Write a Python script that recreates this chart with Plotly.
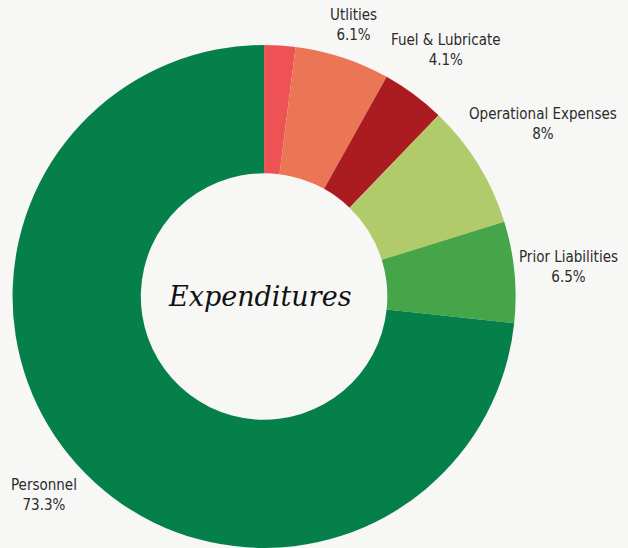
import math
import plotly.graph_objects as go

categories = ["Other", "Utlities", "Fuel & Lubricate", "Operational Expenses", "Prior Liabilities", "Personnel"]
values = [2.0, 6.1, 4.1, 8, 6.5, 73.3]
show_label = [False, True, True, True, True, True]
colors = ["#ef5254", "#ea7655", "#ab1c21", "#b1cb6a", "#46a549", "#06804a"]

W, H = 628, 548
DOM_X = [0.019, 0.822]
DOM_Y = [0.0, 0.918]
FONT = "DejaVu Sans Condensed, Roboto, sans-serif"
FSIZE = 15

fig = go.Figure(go.Pie(
    labels=categories,
    values=values,
    textinfo="none",
    sort=False,
    direction="clockwise",
    rotation=0,
    hole=0.49,
    automargin=False,
    marker=dict(colors=colors, line=dict(width=0)),
    domain=dict(x=DOM_X, y=DOM_Y),
    showlegend=False,
    hovertemplate="%{label}: %{value}%<extra></extra>",
))

# Label placement derived from the pie geometry (mid-angle of each slice)
cx = W * (DOM_X[0] + DOM_X[1]) / 2
R = min(W * (DOM_X[1] - DOM_X[0]), H * (DOM_Y[1] - DOM_Y[0])) / 2
cy = H * (1 - DOM_Y[0]) - R


def text_width(s):
    narrow = set("iltfrjI.% ")
    return sum(3.6 if ch in narrow else 8.0 for ch in s)


total = sum(values)
cum = 0.0
gap = 6
box_h = 46
for c, v, s in zip(categories, values, show_label):
    mid = (cum + v / 2) / total * 2 * math.pi
    cum += v
    if not s:
        continue
    lines = [c, f"{v:g}%"]
    bw = max(text_width(l) for l in lines)
    sn, cs = math.sin(mid), math.cos(mid)
    d = R + gap + bw / 2 * abs(sn) + box_h / 2 * abs(cs)
    px = cx + d * sn
    py = cy - d * cs
    fig.add_annotation(
        text="<br>".join(lines),
        x=px / W, y=1 - py / H, xref="paper", yref="paper",
        xanchor="center", yanchor="middle", align="center",
        showarrow=False,
        font=dict(family=FONT, size=FSIZE, color="#2b2b2b"),
    )

fig.add_annotation(
    text="<i>Expenditures</i>",
    x=(DOM_X[0] + DOM_X[1]) / 2 - 0.006, y=(DOM_Y[0] + DOM_Y[1]) / 2, xref="paper", yref="paper",
    showarrow=False,
    font=dict(family="DejaVu Serif, serif", size=27, color="#111111"),
)

fig.update_layout(
    width=W, height=H,
    margin=dict(l=0, r=0, t=0, b=0, autoexpand=False),
    paper_bgcolor="#f7f7f5",
    plot_bgcolor="#f7f7f5",
)

fig.write_html(
    "out.html",
    config={"displayModeBar": False},
    post_script="document.body.style.margin='0';document.body.style.overflow='hidden';",
)
